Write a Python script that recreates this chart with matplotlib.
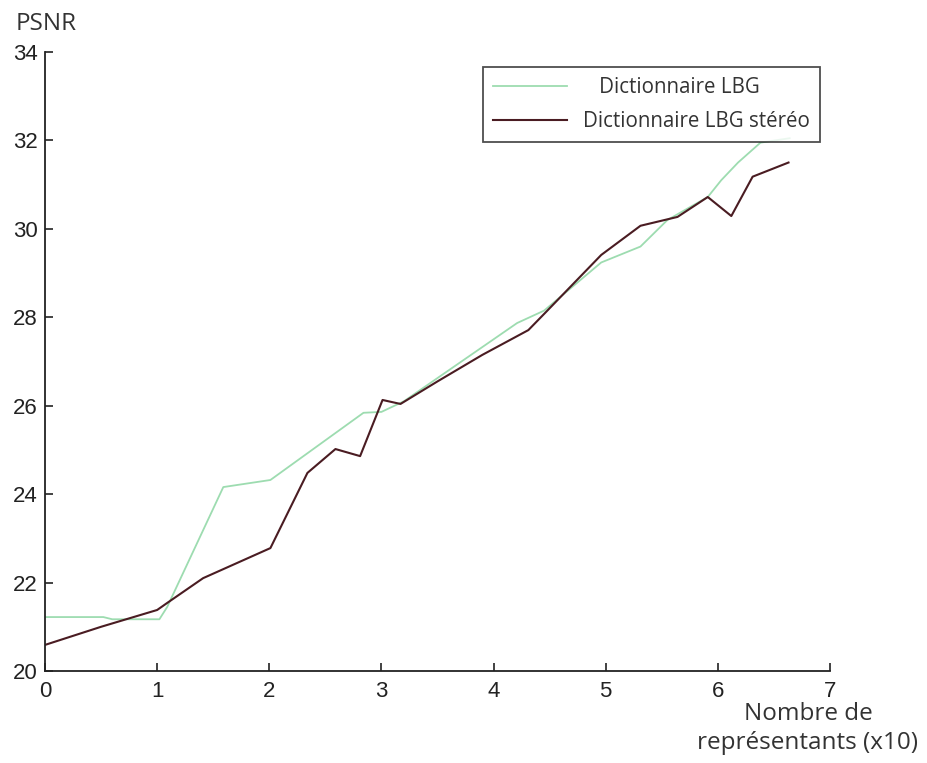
import matplotlib
matplotlib.use("Agg")
import matplotlib.pyplot as plt

# Data
green_x = [0, 0.52, 0.6, 1.02, 1.09, 1.59, 2.01, 2.84, 3.0, 3.2, 4.21, 4.45, 4.96, 5.31, 5.55, 5.91, 6.03, 6.18, 6.38, 6.64]
green_y = [21.22, 21.22, 21.17, 21.17, 21.45, 24.16, 24.32, 25.84, 25.86, 26.1, 27.87, 28.15, 29.24, 29.6, 30.2, 30.72, 31.1, 31.5, 31.95, 32.05]

stereo_x = [0, 0.5, 1.0, 1.09, 1.41, 1.71, 2.01, 2.34, 2.59, 2.81, 3.01, 3.17, 3.5, 3.9, 4.31, 4.46, 4.96, 5.31, 5.64, 5.91, 6.12, 6.31, 6.63]
stereo_y = [20.59, 21.0, 21.38, 21.54, 22.1, 22.44, 22.78, 24.48, 25.02, 24.86, 26.13, 26.04, 26.55, 27.15, 27.71, 28.1, 29.41, 30.07, 30.27, 30.72, 30.29, 31.18, 31.5]

label_green = "   Dictionnaire LBG"
label_stereo = "Dictionnaire LBG stéréo"
xticks = [0, 1, 2, 3, 4, 5, 6, 7]
yticks = [20, 22, 24, 26, 28, 30, 32, 34]

fig = plt.figure(figsize=(9.28, 7.63), dpi=100)
ax = fig.add_axes([45/928, 1-671/763, (830-45)/928, (671-52)/763])

ax.plot(green_x, green_y, color="#9ddcb0", lw=1.3, label=label_green)
ax.plot(stereo_x, stereo_y, color="#4a1c22", lw=1.5, label=label_stereo)

ax.set_xlim(0, 7)
ax.set_ylim(20, 34)
ax.set_xticks(xticks)
ax.set_yticks(yticks)
ax.spines["top"].set_visible(False)
ax.spines["right"].set_visible(False)
for s in ("left", "bottom"):
    ax.spines[s].set_linewidth(1.3)
    ax.spines[s].set_color("#222222")
ax.tick_params(direction="in", length=6, width=1.2, color="#222222")
ax.tick_params(axis="y", pad=5)
ax.tick_params(axis="x", pad=7)
for lab in ax.get_xticklabels() + ax.get_yticklabels():
    lab.set_fontfamily("Liberation Sans")
    lab.set_fontsize(16)
    lab.set_color("#222222")

leg = fig.legend(loc="upper left", bbox_to_anchor=(483/928, 1-67/763),
                 bbox_transform=fig.transFigure, borderaxespad=0,
                 prop={"family": "Open Sans", "size": 14.8},
                 frameon=True, fancybox=False, handlelength=3.6,
                 handletextpad=0.75, labelspacing=0.62, borderpad=0.5)
leg.get_frame().set_edgecolor("#222222")
leg.get_frame().set_linewidth(1.3)
leg.set_zorder(5)
for t in leg.get_texts():
    t.set_color("#333333")

fig.text(16/928, 1-30/763, "PSNR", family="Open Sans", fontsize=17.5,
         color="#333333", va="baseline", ha="left")
fig.text(808/928, 1-702/763, "Nombre de\nreprésentants (x10)", family="Open Sans",
         fontsize=17.5, color="#333333", va="top", ha="center",
         multialignment="center", linespacing=1.3)

fig.savefig("out.png", dpi=100)
